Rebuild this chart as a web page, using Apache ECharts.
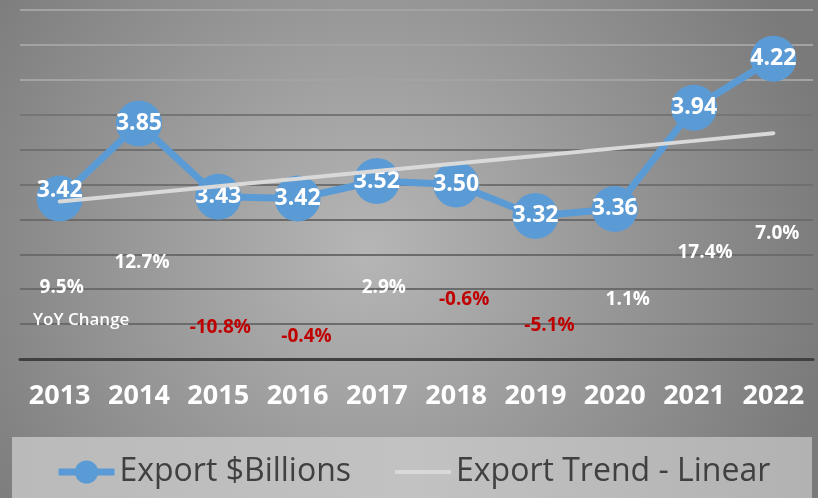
<!DOCTYPE html>
<html>
<head>
<meta charset="utf-8">
<script src="https://cdn.jsdelivr.net/npm/echarts@6/dist/echarts.min.js"></script>
<style>
  html, body { margin: 0; padding: 0; }
  #main { width: 818px; height: 498px; }
</style>
</head>
<body>
<div id="main"></div>
<script>
// data
const years = ['2013', '2014', '2015', '2016', '2017', '2018', '2019', '2020', '2021', '2022'];
const exports = [3.42, 3.85, 3.43, 3.42, 3.52, 3.50, 3.32, 3.36, 3.94, 4.22];
const trend = [3.403, 3.446, 3.490, 3.533, 3.577, 3.620, 3.663, 3.707, 3.750, 3.794];
const yoy = [9.5, 12.7, -10.8, -0.4, 2.9, -0.6, -5.1, 1.1, 17.4, 7.0];

// where the YoY notes sit (axis units) and how far they are nudged right, px
const yoyLevel = [2.91, 3.05, 2.68, 2.63, 2.91, 2.84, 2.69, 2.84, 3.11, 3.22];
const yoyShift = [2, 3, 2, 9, 7, 8, 14, 13, 11, 4];

const font = "'Open Sans', 'Noto Sans', sans-serif";

let chart = echarts.init(document.getElementById('main'));

let option = {
  backgroundColor: {
    type: 'radial', x: 0.45, y: 0.5, r: 0.95,
    colorStops: [
      { offset: 0, color: '#b6b6b6' },
      { offset: 1, color: '#7a7a7a' }
    ]
  },
  animation: false,
  textStyle: { fontFamily: font },
  graphic: [
    {
      type: 'rect',
      shape: { x: 12, y: 437, width: 800, height: 61 },
      style: {
        fill: {
          type: 'linear', x: 0, y: 0, x2: 1, y2: 0,
          colorStops: [
            { offset: 0, color: '#bababa' },
            { offset: 0.5, color: '#c2c2c2' },
            { offset: 1, color: '#b2b2b2' }
          ]
        }
      },
      z: 0
    },
    {
      type: 'text',
      left: 33, top: 312,
      style: { text: 'YoY Change', fill: '#ffffff', font: '600 17px ' + font },
      z: 5
    }
  ],
  grid: { left: 20, right: 5, top: 10, bottom: 139 },
  legend: {
    left: 50, top: 451,
    itemWidth: 56, itemHeight: 29, itemGap: 44,
    textStyle: { fontSize: 32, color: '#404040', fontFamily: font },
    lineStyle: { width: 'inherit' },
    data: [
      { name: 'Export $Billions' },
      { name: 'Export Trend - Linear', icon: 'path://M0,0L56,0L56,4L0,4Z' }
    ]
  },
  xAxis: {
    type: 'category',
    data: years,
    axisTick: { show: false },
    axisLine: { lineStyle: { color: '#404040', width: 3 } },
    axisLabel: {
      interval: 0, color: '#ffffff', fontSize: 27, fontWeight: 'bold',
      margin: 24, fontFamily: font
    }
  },
  yAxis: {
    type: 'value',
    min: 2.5, max: 4.5, interval: 0.2,
    axisLabel: { show: false },
    axisLine: { show: false },
    axisTick: { show: false },
    splitLine: {
      lineStyle: {
        width: 2,
        color: ['#6b6b6b', '#6b6b6b', '#6b6b6b', '#6b6b6b', '#6b6b6b', '#707070',
                '#707070', '#757575', '#a3a3a3', '#a3a3a3', '#a3a3a3']
      }
    }
  },
  series: [
    {
      name: 'Export $Billions',
      type: 'line',
      // the first label sits a little above its dot, as in the picture
      data: exports.map((v, i) => (i === 0 ? { value: v, label: { offset: [0, -8] } } : v)),
      symbol: 'circle',
      symbolSize: 46,
      itemStyle: { color: '#5b9bd5' },
      lineStyle: { color: '#5b9bd5', width: 7 },
      label: {
        show: true, position: 'inside',
        color: '#ffffff', fontSize: 23, fontWeight: 'bold', fontFamily: font,
        formatter: (p) => p.value.toFixed(2)
      },
      z: 2
    },
    {
      name: 'Export Trend - Linear',
      type: 'line',
      data: trend,
      showSymbol: false,
      symbol: 'none',
      lineStyle: { color: '#d9d9d9', width: 4, cap: 'round' },
      itemStyle: { color: '#d9d9d9' },
      z: 3
    },
    {
      name: 'YoY',
      type: 'scatter',
      symbolSize: 0,
      itemStyle: { opacity: 1 },
      data: yoy.map((v, i) => ({
        value: [i, yoyLevel[i]],
        label: { offset: [yoyShift[i], 0], color: v < 0 ? '#c00000' : '#ffffff' }
      })),
      label: {
        show: true, position: 'inside',
        fontSize: 19, fontWeight: 'bold', fontFamily: font,
        formatter: (p) => yoy[p.dataIndex].toFixed(1) + '%'
      },
      z: 4
    }
  ]
};

chart.setOption(option, true);
window.addEventListener('resize', function () {
  chart.resize();
});
</script>
</body>
</html>
